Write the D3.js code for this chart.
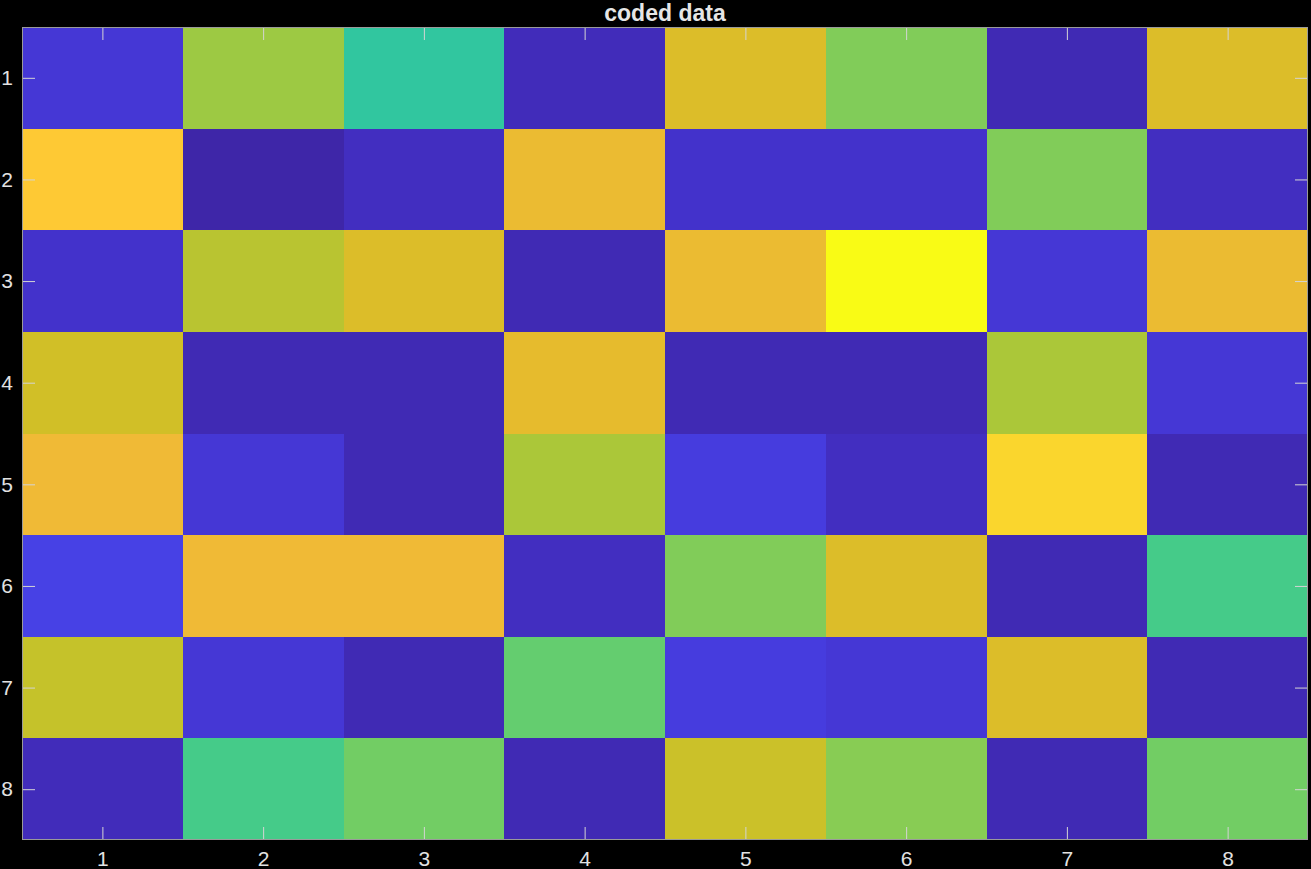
<!DOCTYPE html>
<html>
<head>
<meta charset="utf-8">
<title>coded data</title>
<script src="https://d3js.org/d3.v7.min.js"></script>
<style>
  html, body { margin: 0; padding: 0; background: #000; }
  svg { display: block; }
</style>
</head>
<body>
<script>
// parula colormap (64 entries)
const parula = [
  [0.2422,0.1504,0.6603],[0.2504,0.1650,0.7076],[0.2578,0.1818,0.7511],[0.2647,0.1978,0.7952],
  [0.2706,0.2147,0.8364],[0.2751,0.2342,0.8710],[0.2783,0.2559,0.8991],[0.2803,0.2782,0.9221],
  [0.2813,0.3006,0.9414],[0.2810,0.3228,0.9579],[0.2795,0.3447,0.9717],[0.2760,0.3667,0.9829],
  [0.2699,0.3892,0.9906],[0.2602,0.4123,0.9952],[0.2440,0.4358,0.9988],[0.2206,0.4603,0.9973],
  [0.1963,0.4847,0.9892],[0.1834,0.5074,0.9798],[0.1786,0.5289,0.9682],[0.1764,0.5499,0.9520],
  [0.1687,0.5703,0.9359],[0.1540,0.5902,0.9218],[0.1460,0.6091,0.9079],[0.1380,0.6276,0.8973],
  [0.1248,0.6459,0.8883],[0.1113,0.6635,0.8763],[0.0952,0.6798,0.8598],[0.0689,0.6948,0.8394],
  [0.0297,0.7082,0.8163],[0.0036,0.7203,0.7917],[0.0067,0.7312,0.7660],[0.0433,0.7411,0.7394],
  [0.0964,0.7500,0.7120],[0.1408,0.7584,0.6842],[0.1717,0.7670,0.6554],[0.1938,0.7758,0.6251],
  [0.2161,0.7843,0.5923],[0.2470,0.7918,0.5567],[0.2906,0.7973,0.5188],[0.3406,0.8008,0.4789],
  [0.3909,0.8029,0.4354],[0.4456,0.8024,0.3909],[0.5044,0.7993,0.3480],[0.5616,0.7942,0.3045],
  [0.6174,0.7876,0.2612],[0.6720,0.7793,0.2227],[0.7242,0.7698,0.1910],[0.7738,0.7598,0.1646],
  [0.8203,0.7498,0.1535],[0.8634,0.7406,0.1596],[0.9035,0.7330,0.1774],[0.9393,0.7288,0.2100],
  [0.9728,0.7298,0.2394],[0.9956,0.7434,0.2371],[0.9970,0.7659,0.2199],[0.9952,0.7893,0.2028],
  [0.9892,0.8136,0.1885],[0.9786,0.8386,0.1766],[0.9676,0.8639,0.1643],[0.9610,0.8890,0.1537],
  [0.9597,0.9135,0.1423],[0.9628,0.9373,0.1265],[0.9691,0.9606,0.1064],[0.9769,0.9839,0.0805]
].map(c => d3.rgb(c[0]*255, c[1]*255, c[2]*255).formatHex());

const rows = [1, 2, 3, 4, 5, 6, 7, 8];
const cols = [1, 2, 3, 4, 5, 6, 7, 8];
const tickLabels = ["1", "2", "3", "4", "5", "6", "7", "8"];

// cell values (colormap index 0..63), one array per row
const row1 = [4, 44, 35, 1.5, 49, 42, 1, 49];
const row2 = [55, 0, 2, 50.5, 3, 3, 42, 2];
const row3 = [3, 46, 49, 1, 50.5, 63, 4, 50.5];
const row4 = [48, 1, 1, 50, 1, 1, 45, 4];
const row5 = [51, 4, 1, 45, 5, 2, 57, 1];
const row6 = [6, 51, 51, 2, 42, 49, 1, 37.5];
const row7 = [47, 4, 1, 40, 5, 4, 49, 1];
const row8 = [1.5, 37.5, 41, 1, 47.5, 42.5, 1, 41];
const values = [row1, row2, row3, row4, row5, row6, row7, row8];

const W = 1311, H = 869;
const mLeft = 22, mRight = 1308, mTop = 27, mBottom = 840;

const svg = d3.select("body").append("svg")
  .attr("width", W)
  .attr("height", H)
  .style("background", "#000");

const x = d3.scaleLinear().domain([0.5, 8.5]).range([mLeft, mRight]);
const y = d3.scaleLinear().domain([0.5, 8.5]).range([mTop, mBottom]);
const color = d3.scaleLinear().domain(d3.range(64)).range(parula).clamp(true);

const cells = [];
values.forEach((r, i) => r.forEach((v, j) => cells.push({ row: rows[i], col: cols[j], v: v })));

svg.append("g")
  .selectAll("rect")
  .data(cells)
  .enter()
  .append("rect")
  .attr("x", d => x(d.col - 0.5))
  .attr("y", d => y(d.row - 0.5))
  .attr("width", d => x(d.col + 0.5) - x(d.col - 0.5))
  .attr("height", d => y(d.row + 0.5) - y(d.row - 0.5))
  .attr("fill", d => color(d.v))
  .attr("shape-rendering", "crispEdges");

const tickLen = 13;
const tickColor = "#d4d4d4";
const labelColor = "#e2e2e2";

// axes drawn with d3 axis generators, inward ticks on all four sides
function styleAxis(g) {
  g.select(".domain").remove();
  g.selectAll(".tick line").attr("stroke", tickColor).attr("stroke-width", 1);
  g.selectAll(".tick text")
    .attr("fill", labelColor)
    .style("font-family", "Liberation Sans, Arial, sans-serif")
    .style("font-size", "21px");
}

svg.append("g")
  .attr("transform", `translate(0,${mBottom})`)
  .call(d3.axisBottom(x).tickValues(cols).tickFormat((d, i) => tickLabels[i])
    .tickSizeInner(-tickLen).tickSizeOuter(0).tickPadding(11))
  .call(styleAxis);

svg.append("g")
  .attr("transform", `translate(0,${mTop})`)
  .call(d3.axisTop(x).tickValues(cols).tickFormat("")
    .tickSizeInner(-tickLen).tickSizeOuter(0))
  .call(styleAxis);

svg.append("g")
  .attr("transform", `translate(${mLeft},0)`)
  .call(d3.axisLeft(y).tickValues(rows).tickFormat((d, i) => tickLabels[i])
    .tickSizeInner(-tickLen).tickSizeOuter(0).tickPadding(9))
  .call(styleAxis);

svg.append("g")
  .attr("transform", `translate(${mRight},0)`)
  .call(d3.axisRight(y).tickValues(rows).tickFormat("")
    .tickSizeInner(-tickLen).tickSizeOuter(0))
  .call(styleAxis);

// box
svg.append("rect")
  .attr("x", mLeft + 0.5)
  .attr("y", mTop + 0.5)
  .attr("width", mRight - mLeft - 1)
  .attr("height", mBottom - mTop - 1)
  .attr("fill", "none")
  .attr("stroke", "#9a9a9a")
  .attr("stroke-width", 1);

svg.append("text")
  .attr("x", (mLeft + mRight) / 2)
  .attr("y", 21)
  .attr("text-anchor", "middle")
  .attr("fill", "#e6e6e6")
  .style("font-family", "Liberation Sans, Arial, sans-serif")
  .style("font-weight", "bold")
  .style("font-size", "23px")
  .text("coded data");
</script>
</body>
</html>
